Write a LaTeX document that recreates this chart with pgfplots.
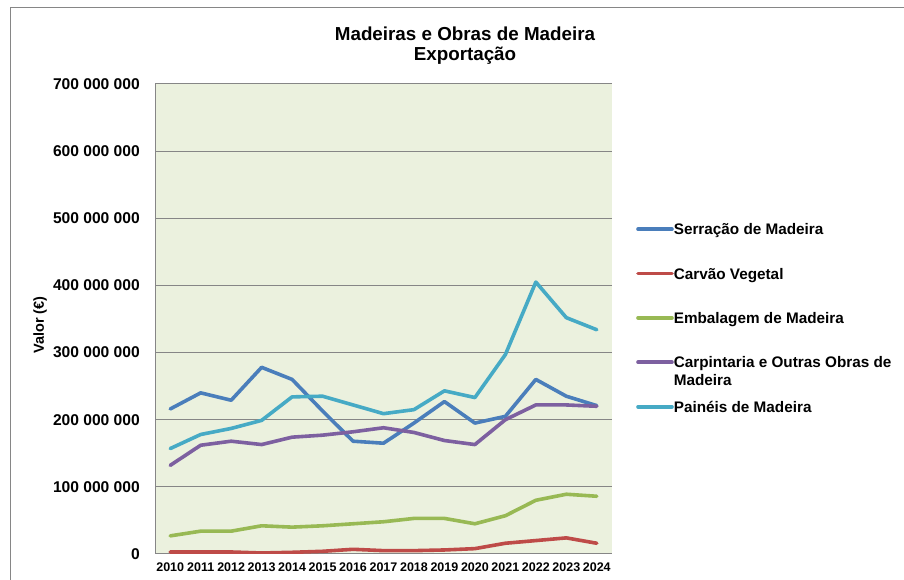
\documentclass[border=0pt]{standalone}
\usepackage{pgfplots}
\pgfplotsset{compat=1.18}
\usepackage{fontspec}
\setmainfont{Liberation Sans}
\definecolor{cSer}{HTML}{4A7EBB}
\definecolor{cCar}{HTML}{BE4B48}
\definecolor{cEmb}{HTML}{98B954}
\definecolor{cCrp}{HTML}{7D60A0}
\definecolor{cPai}{HTML}{46AAC5}
\definecolor{bgc}{HTML}{EBF1DE}
\definecolor{grd}{HTML}{868686}
\newcommand\ls{\rule[-1pt]{0pt}{12pt}}
\begin{document}
\begin{tikzpicture}
\useasboundingbox (0,0) rectangle (904pt,580pt);
\draw[grd, line width=1pt] (10pt,0pt) -- (10pt,572pt) -- (904pt,572pt);
\begin{axis}[
  at={(155pt,26pt)}, anchor=south west,
  scale only axis, width=457pt, height=470pt,
  xmin=-0.5, xmax=14.5, ymin=0, ymax=700,
  xtick={0,...,14},
  xticklabels={2010,2011,2012,2013,2014,2015,2016,2017,2018,2019,2020,2021,2022,2023,2024},
  ytick={0,100,...,700},
  yticklabels={0,100 000 000,200 000 000,300 000 000,400 000 000,500 000 000,600 000 000,700 000 000},
  major tick length=0pt,
  axis lines=left,
  axis line style={grd, line width=1pt, -},
  ymajorgrids, grid style={grd, line width=1pt},
  axis background/.style={fill=bgc},
  xticklabel style={inner sep=0pt, yshift=-9pt, font=\bfseries\fontsize{12.5}{14}\selectfont},
  yticklabel style={inner sep=0pt, xshift=-15pt, font=\bfseries\fontsize{15.6}{18}\selectfont},
  ylabel={Valor (€)},
  ylabel style={at={(axis description cs:-0.2515,0.4872)}, anchor=center, inner sep=0pt, font=\bfseries\fontsize{14.5}{16}\selectfont},
  title={Madeiras e Obras de Madeira\\Exportação},
  title style={at={(axis description cs:0.6783,1.1085)}, anchor=north, inner sep=0pt, align=center, font=\bfseries\fontsize{18.8}{19.5}\selectfont},
  legend cell align=left,
  legend style={draw=none, fill=none, inner sep=0pt, at={(axis description cs:1.0525,0.7031)}, anchor=north west,
    row sep=33.25pt, column sep=0pt, nodes={inner sep=0pt, text depth=0pt}, font=\bfseries\fontsize{15.3}{18}\selectfont},
  legend image code/.code={\draw[#1, line width=3.6pt] (0pt,0pt) -- (34pt,0pt);},
  every axis plot/.append style={line width=3.6pt, line join=round, line cap=round, mark=none},
]
\addplot[cSer] coordinates {(0,216) (1,240) (2,229) (3,278) (4,260) (5,213) (6,168) (7,165) (8,195) (9,227) (10,195) (11,205) (12,260) (13,235) (14,221)};
\addlegendentry{\ls Serração de Madeira}
\addplot[cCar] coordinates {(0,3) (1,3) (2,3) (3,1.5) (4,2.5) (5,4) (6,7) (7,5) (8,5) (9,6) (10,8) (11,16) (12,20) (13,24) (14,16)};
\addlegendentry{\ls Carvão Vegetal}
\addplot[cEmb] coordinates {(0,27) (1,34) (2,34) (3,42) (4,40) (5,42) (6,45) (7,48) (8,53) (9,53) (10,45) (11,57) (12,80) (13,89) (14,86)};
\addlegendentry{\ls Embalagem de Madeira}
\addplot[cCrp] coordinates {(0,132) (1,162) (2,168) (3,163) (4,174) (5,177) (6,182) (7,188) (8,181) (9,169) (10,163) (11,200) (12,222) (13,222) (14,220)};
\addlegendentry{\ls\rlap{\raisebox{-18pt}[0pt][0pt]{Madeira}}Carpintaria e Outras Obras de}
\addplot[cPai] coordinates {(0,157) (1,178) (2,187) (3,199) (4,234) (5,235) (6,222) (7,209) (8,215) (9,243) (10,233) (11,297) (12,405) (13,352) (14,334)};
\addlegendentry{\ls Painéis de Madeira}
\end{axis}
\end{tikzpicture}
\end{document}
